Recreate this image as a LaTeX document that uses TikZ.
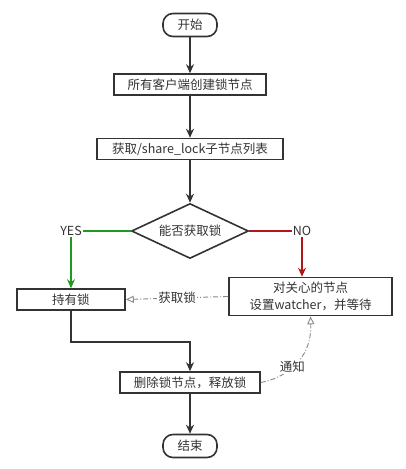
\documentclass[tikz,border=0pt]{standalone}
\usepackage{fontspec}
\setmainfont{Noto Sans CJK SC}
\usepackage{tikz}
\usetikzlibrary{arrows.meta,calc,positioning,shapes.geometric}

\definecolor{ink}{HTML}{333333}
\definecolor{yesgreen}{HTML}{1E9A1E}
\definecolor{nored}{HTML}{B01818}
\definecolor{notegray}{HTML}{888888}

\begin{document}
\begin{tikzpicture}[x=1pt,y=-1pt,
    every node/.style={text=ink, font=\fontsize{12.5}{15}\selectfont},
    term/.style={
      draw=ink, line width=1.6pt, rounded corners=10pt,
      minimum width=54pt, minimum height=23pt, inner sep=2pt
    },
    proc/.style={
      draw=ink, line width=1.6pt,
      minimum height=21pt, inner sep=2pt
    },
    decide/.style={
      draw=ink, line width=1.6pt, diamond, aspect=2.2,
      minimum width=117pt, minimum height=55pt, inner sep=0pt
    },
    lbl/.style={inner sep=1pt, fill=white},
    conn/.style={line width=1.6pt, draw=ink},
    arr/.style={-{Stealth[length=9pt,width=8pt]}, line width=1.6pt, draw=ink},
    yesarr/.style={-{Stealth[length=9pt,width=8pt]}, line width=1.4pt, draw=yesgreen},
    noarr/.style={-{Stealth[length=9pt,width=8pt]}, line width=1.4pt, draw=nored},
    notify/.style={-{Triangle[open,length=8pt,width=7pt]}, line width=0.9pt,
      draw=notegray, dash pattern=on 5pt off 2pt on 1pt off 2pt}
  ]
  \useasboundingbox (0,0) rectangle (406,469);

  % Nodes
  \node[term] (start) at (190,25) {开始};
  \node[proc, minimum width=152pt] (create) at (190,84.5) {所有客户端创建锁节点};
  \node[proc, minimum width=186pt] (list) at (190,149) {获取/share\_lock子节点列表};
  \node[decide] (can) at (190,231) {能否获取锁};

  \node[inner sep=1pt] (yes) at (71,231) {YES};
  \node[inner sep=1pt] (no) at (302,231) {NO};

  \node[proc, minimum width=108pt] (hold) at (71,299.5) {持有锁};
  \node[proc, minimum width=163pt, minimum height=38pt, align=center,
        font=\fontsize{12.5}{17}\selectfont] (watch) at (310.5,296.5)
        {对关心的节点\\设置watcher，并等待};
  \node[proc, minimum width=140pt] (del) at (190,382.5) {删除锁节点，释放锁};
  \node[term] (stop) at (190,446) {结束};

  % Main flow
  \draw[arr] (start) -- (create);
  \draw[arr] (create) -- (list);
  \draw[arr] (list) -- (can);

  % Decision branches
  \draw[line width=1.4pt, draw=yesgreen] (can.west) -- (yes.east);
  \draw[yesarr] (yes.south) -- (hold.north);
  \draw[line width=1.4pt, draw=nored] (can.east) -- (no.west);
  \draw[noarr] (no.south) -- (watch.north -| no.south);

  % Release path
  \draw[arr] (hold.south) -- ++(0,31) -| (del.north);
  \draw[arr] (del) -- (stop);

  % Watcher notes
  \draw[notify] (watch.west) -- node[lbl] {获取锁} (hold.east);
  \draw[notify] (del.east) .. controls (285,378) and (312,360) .. node[lbl, pos=0.45] {通知} (watch.south);

\end{tikzpicture}
\end{document}
